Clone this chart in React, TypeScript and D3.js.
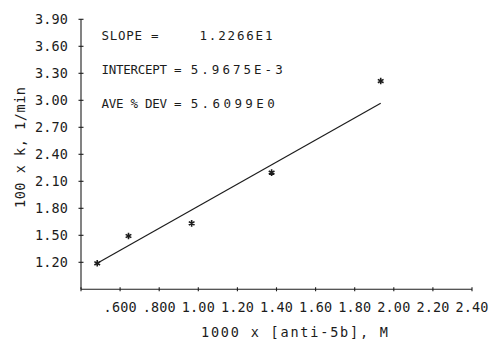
import React from "react";
import * as d3 from "d3";

const xs = [0.483, 0.643, 0.966, 1.375, 1.933];
const ys = [1.189, 1.492, 1.633, 2.196, 3.214];
const slope = 1.2266;
const intercept = 0.59675;
const xTicks = [0.4, 0.6, 0.8, 1.0, 1.2, 1.4, 1.6, 1.8, 2.0, 2.2, 2.4];
const xTickLabels = ["", ".600", ".800", "1.00", "1.20", "1.40", "1.60", "1.80", "2.00", "2.20", "2.40"];
const yTicks = [1.2, 1.5, 1.8, 2.1, 2.4, 2.7, 3.0, 3.3, 3.6, 3.9];
const yTickLabels = ["1.20", "1.50", "1.80", "2.10", "2.40", "2.70", "3.00", "3.30", "3.60", "3.90"];
const annLabels = ["SLOPE =", "INTERCEPT =", "AVE % DEV ="];
const annValues = ["1.2266E1", "5.9675E-3", "5.6099E0"];

const FONT = "'DejaVu Sans Mono', monospace";
const INK = "#1c1c1c";

export default function App() {
  const x = d3.scaleLinear().domain([0.4, 2.4]).range([81, 472]);
  const y = d3.scaleLinear().domain([0.9, 3.9]).range([289.3, 19.3]);
  const fitX = [xs[0], xs[xs.length - 1]];
  const line = d3
    .line<number>()
    .x((d) => x(d))
    .y((d) => y(slope * d + intercept));
  const star = d3.symbol(d3.symbolAsterisk, 30)() || "";
  const annX = [101.5, 101.5, 101.5];
  const annLen = [57, 80, 80];
  const valX = [199.5, 190.7, 190.7];
  const valLen = [73, 92, 84];
  const annY = [40, 74, 108];

  return (
    <svg
      width={489}
      height={340}
      style={{ position: "absolute", left: 0, top: 0, background: "#fff" }}
    >
      <g stroke={INK} strokeWidth={1.1} fill="none">
        <line x1={x(0.4)} x2={x(0.4)} y1={y(0.9)} y2={y(3.9)} />
        <line x1={x(0.4)} x2={x(2.4)} y1={y(0.9)} y2={y(0.9)} />
        {yTicks.map((t) => (
          <line key={"yt" + t} x1={x(0.4) - 2.5} x2={x(0.4) + 2.5} y1={y(t)} y2={y(t)} />
        ))}
        {xTicks.map((t) => (
          <line key={"xt" + t} x1={x(t)} x2={x(t)} y1={y(0.9) - 2} y2={y(0.9) + 2} />
        ))}
        <path d={line(fitX) || ""} strokeWidth={1.2} />
        {xs.map((v, i) => (
          <path
            key={"p" + i}
            d={star}
            transform={`translate(${x(v)},${y(ys[i])})`}
            strokeWidth={1.6}
          />
        ))}
      </g>
      <g fill={INK} fontFamily={FONT}>
        {yTicks.map((t, i) => (
          <text
            key={"yl" + t}
            x={68}
            y={y(t) + 5}
            fontSize={13.5}
            textAnchor="end"
            textLength={33}
            lengthAdjust="spacing"
          >
            {yTickLabels[i]}
          </text>
        ))}
        {xTicks.map((t, i) =>
          xTickLabels[i] ? (
            <text
              key={"xl" + t}
              x={x(t)}
              y={312}
              fontSize={13.5}
              textAnchor="middle"
              textLength={33}
              lengthAdjust="spacing"
            >
              {xTickLabels[i]}
            </text>
          ) : null
        )}
        <text x={201} y={337} fontSize={13.5} textLength={187} lengthAdjust="spacing">
          1000 x [anti-5b], M
        </text>
        <text
          transform="translate(25,208) rotate(-90)"
          x={0}
          y={0}
          fontSize={13.5}
          textLength={121}
          lengthAdjust="spacing"
        >
          100 x k, 1/min
        </text>
        {annLabels.map((s, i) => (
          <text
            key={"al" + i}
            x={annX[i]}
            y={annY[i]}
            fontSize={12.5}
            textLength={annLen[i]}
            lengthAdjust="spacing"
          >
            {s}
          </text>
        ))}
        {annValues.map((s, i) => (
          <text
            key={"av" + i}
            x={valX[i]}
            y={annY[i]}
            fontSize={12.5}
            textLength={valLen[i]}
            lengthAdjust="spacing"
          >
            {s}
          </text>
        ))}
      </g>
    </svg>
  );
}
